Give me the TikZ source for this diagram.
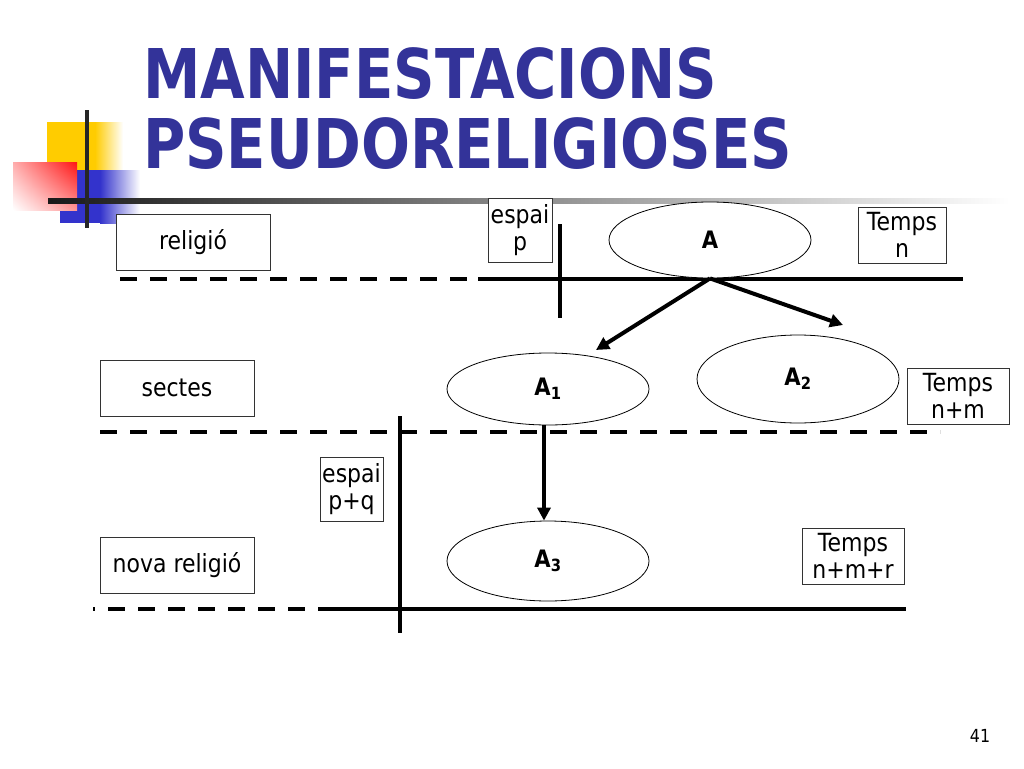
\documentclass[tikz,border=0pt]{standalone}
\usepackage{fontspec}
\setmainfont{DejaVu Sans}[FakeStretch=0.88]
\usetikzlibrary{shapes.geometric,arrows.meta,shadings}
\definecolor{titleblue}{RGB}{51,51,153}
\definecolor{decoyellow}{RGB}{255,204,0}
\definecolor{decoblue}{RGB}{51,51,204}
\definecolor{decored}{RGB}{255,20,20}
\tikzset{
  lbl/.style={draw=black!80, line width=1pt, inner sep=0pt, align=center,
    font=\fontsize{25}{27}\selectfont},
  ell/.style={draw, ellipse, line width=0.8pt, inner sep=0pt, minimum width=202pt,
    font=\bfseries\fontsize{24}{26}\selectfont},
  thick line/.style={line width=4pt},
  dash line/.style={line width=4pt, dash pattern=on 17pt off 13pt},
  arr/.style={line width=4pt, -{Triangle[length=13pt,width=13pt]}},
  ttl/.style={anchor=base west, inner sep=0pt, text=titleblue,
    font=\bfseries\fontsize{68.6}{70}\selectfont}
}
\begin{document}
\begin{tikzpicture}[x=1pt,y=-1pt]
\useasboundingbox[fill=white] (0,0) rectangle (1024,768);
% decoration
\shade[left color=decoyellow, right color=white] (95,122) rectangle (123,170);
\fill[decoyellow] (47,122) rectangle (95,170);
\shade[left color=decoblue, right color=white] (100,170) rectangle (140,223);
\fill[decoblue] (60,170) rectangle (100,223);
\shade[upper right=decored, upper left=decored!35, lower right=decored!45, lower left=white] (13,162) rectangle (77,210);
\shade[left color=black!90, right color=white] (48,198) rectangle (1010,203);
\fill[black!85] (85,110) rectangle (89,228);
% title
\node[ttl] (t1) at (143,98) {\scalebox{0.955}[1]{MANIFESTACIONS}};
\node[ttl] (t2) at (143,168) {\scalebox{0.955}[1]{PSEUDORELIGIOSES}};
% row lines
\coordinate (l1a) at (120,279); \coordinate (l1b) at (478,279); \coordinate (l1c) at (963,279);
\draw[dash line] (l1a) -- (l1b);
\draw[thick line] (l1b) -- (l1c);
\coordinate (v1a) at (560,224); \coordinate (v1b) at (560,318);
\draw[thick line] (v1a) -- (v1b);
\coordinate (l2a) at (100,432); \coordinate (l2b) at (940,432);
\draw[dash line] (l2a) -- (l2b);
\coordinate (v2a) at (400,416); \coordinate (v2b) at (400,633);
\draw[thick line] (v2a) -- (v2b);
\coordinate (l3a) at (93,609); \coordinate (l3b) at (333,609); \coordinate (l3c) at (906,609);
\draw[dash line, dash phase=15pt] (l3a) -- (l3b);
\draw[thick line] (l3b) -- (l3c);
% boxes
\node[lbl, fill=white, minimum width=154pt, minimum height=56pt] (rel) at (193,242) {religió};
\node[lbl, fill=white, minimum width=64pt, minimum height=64pt] (ep) at (520,230) {espai\\p};
\node[lbl, fill=white, minimum width=88pt, minimum height=56pt] (tn) at (902,235) {Temps\\n};
\node[lbl, fill=white, minimum width=154pt, minimum height=56pt] (sec) at (177,388) {sectes};
\node[lbl, fill=white, minimum width=102pt, minimum height=56pt] (tnm) at (958,396) {Temps\\n+m};
\node[lbl, fill=white, minimum width=63pt, minimum height=64pt] (epq) at (351.5,489) {espai\\p+q};
\node[lbl, fill=white, minimum width=102pt, minimum height=56pt] (tnmr) at (853,556) {Temps\\n+m+r};
\node[lbl, fill=white, minimum width=154pt, minimum height=56pt] (nr) at (177,565) {nova religió};
% ellipses
\node[ell, fill=white, minimum height=76pt] (A) at (710,240) {A};
\node[ell, minimum height=72pt] (A1) at (548,389) {A\textsubscript{1}};
\node[ell, minimum height=88pt] (A2) at (798,379) {A\textsubscript{2}};
\node[ell, minimum height=80pt] (A3) at (548,561) {A\textsubscript{3}};
% arrows
\coordinate (a1tip) at (596,350);
\coordinate (a2tip) at (843,325);
\draw[arr] (A.south) -- (a1tip);
\draw[arr] (A.south) -- (a2tip);
\draw[arr] ([xshift=-4pt]A1.south) -- ([xshift=-4pt]A3.north);
% page number
\node[font=\fontsize{18}{20}\selectfont] (pg) at (980,736) {41};
\end{tikzpicture}
\end{document}
